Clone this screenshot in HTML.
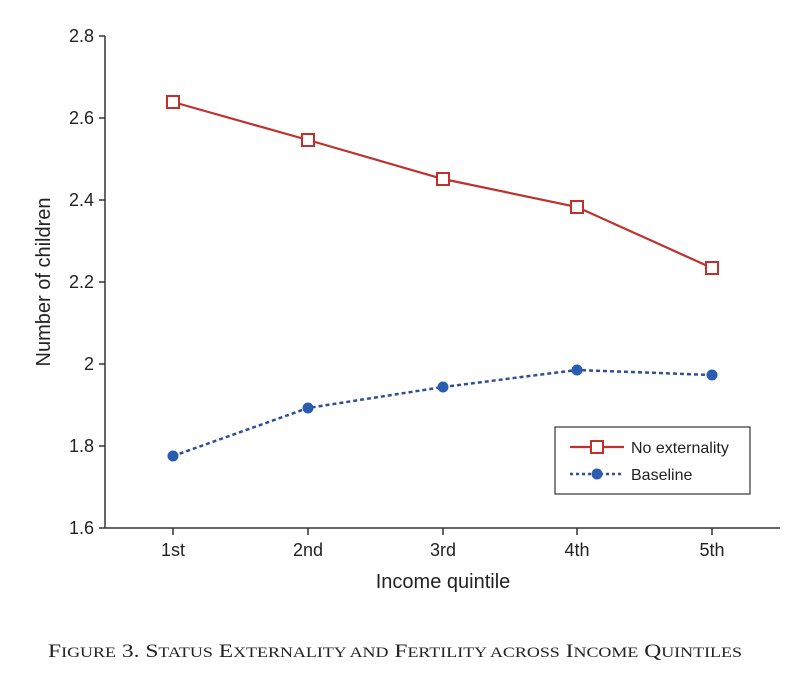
<!DOCTYPE html>
<html><head><style>body{margin:0;background:#fff}</style></head><body>
<svg width="800" height="683" xmlns="http://www.w3.org/2000/svg" font-family="Liberation Sans, sans-serif">
<rect width="800" height="683" fill="#fff"/>
<g stroke="#333" stroke-width="1.5" fill="none">
<line x1="105" y1="36" x2="105" y2="528"/>
<line x1="105" y1="528" x2="780" y2="528"/>
<line x1="99" y1="36" x2="105" y2="36"/><line x1="99" y1="118" x2="105" y2="118"/>
<line x1="99" y1="200" x2="105" y2="200"/><line x1="99" y1="282" x2="105" y2="282"/>
<line x1="99" y1="364" x2="105" y2="364"/><line x1="99" y1="446" x2="105" y2="446"/>
<line x1="99" y1="528" x2="105" y2="528"/>
<line x1="173" y1="528" x2="173" y2="535"/><line x1="308" y1="528" x2="308" y2="535"/>
<line x1="443" y1="528" x2="443" y2="535"/><line x1="577" y1="528" x2="577" y2="535"/>
<line x1="712" y1="528" x2="712" y2="535"/>
</g>
<g font-size="18" fill="#222" text-anchor="end">
<text x="94" y="42">2.8</text><text x="94" y="124">2.6</text><text x="94" y="206">2.4</text>
<text x="94" y="288">2.2</text><text x="94" y="370">2</text><text x="94" y="452">1.8</text><text x="94" y="534">1.6</text>
</g>
<g font-size="18" fill="#222" text-anchor="middle">
<text x="173" y="556">1st</text><text x="308" y="556">2nd</text><text x="443" y="556">3rd</text>
<text x="577" y="556">4th</text><text x="712" y="556">5th</text>
<text x="443" y="588" font-size="20">Income quintile</text>
<text transform="translate(50,282) rotate(-90)" font-size="20">Number of children</text>
</g>
<polyline points="173,102 308,140 443,179 577,207 712,268" fill="none" stroke="#c0302c" stroke-width="2.2"/>
<g fill="#fff" stroke="#c0302c" stroke-width="2">
<rect x="167" y="96" width="12" height="12"/><rect x="302" y="134" width="12" height="12"/>
<rect x="437" y="173" width="12" height="12"/><rect x="571" y="201" width="12" height="12"/>
<rect x="706" y="262" width="12" height="12"/>
</g>
<polyline points="173,456 308,408 443,387 577,370 712,375" fill="none" stroke="#2f4f9a" stroke-width="2.5" stroke-dasharray="4,3"/>
<g fill="#2a5cb0">
<circle cx="173" cy="456" r="5.5"/><circle cx="308" cy="408" r="5.5"/><circle cx="443" cy="387" r="5.5"/>
<circle cx="577" cy="370" r="5.5"/><circle cx="712" cy="375" r="5.5"/>
</g>
<rect x="555" y="427" width="195" height="67" fill="#fff" stroke="#333" stroke-width="1.2"/>
<line x1="570" y1="447" x2="624" y2="447" stroke="#c0302c" stroke-width="2.2"/>
<rect x="591" y="441" width="12" height="12" fill="#fff" stroke="#c0302c" stroke-width="2"/>
<line x1="570" y1="474" x2="624" y2="474" stroke="#2f4f9a" stroke-width="2.5" stroke-dasharray="3,3"/>
<circle cx="597" cy="474" r="5.5" fill="#2a5cb0"/>
<text x="631" y="453" font-size="16" fill="#222">No externality</text>
<text x="631" y="480" font-size="16" fill="#222">Baseline</text>
<text x="48" y="657" font-family="Liberation Serif, serif" font-size="19" fill="#222" textLength="694" lengthAdjust="spacingAndGlyphs">F<tspan font-size="14.5">IGURE</tspan> 3. S<tspan font-size="14.5">TATUS</tspan> E<tspan font-size="14.5">XTERNALITY AND</tspan> F<tspan font-size="14.5">ERTILITY ACROSS</tspan> I<tspan font-size="14.5">NCOME</tspan> Q<tspan font-size="14.5">UINTILES</tspan></text>
</svg>
</body></html>
